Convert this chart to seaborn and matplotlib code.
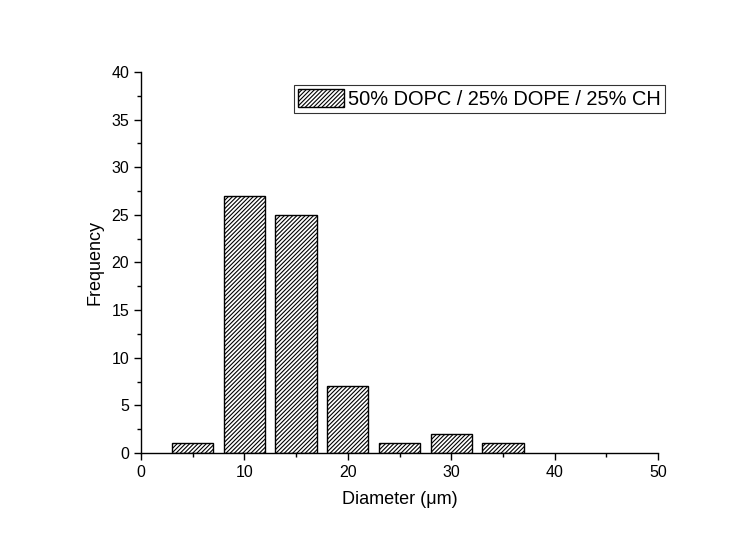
import matplotlib
matplotlib.use("Agg")
import matplotlib.pyplot as plt
import matplotlib.patches as mpatches
from matplotlib.ticker import MultipleLocator
import pandas as pd
import seaborn as sns

diameter_centers = [5, 10, 15, 20, 25, 30, 35]
frequency = [1, 27, 25, 7, 1, 2, 1]
series_label = "50% DOPC / 25% DOPE / 25% CH"

sns.set_theme(style="ticks")
plt.rcParams["font.family"] = ["Liberation Sans", "DejaVu Sans"]
plt.rcParams["hatch.linewidth"] = 0.8
for key in ["text.color", "axes.labelcolor", "xtick.color", "ytick.color"]:
    plt.rcParams[key] = "black"

df = pd.DataFrame({"diameter": diameter_centers, "frequency": frequency})

fig = plt.figure(figsize=(7.49, 5.34), dpi=100)
ax = fig.add_axes([0.1883, 0.1517, 0.6902, 0.7135])

hatch = "////////"
sns.barplot(data=df, x="diameter", y="frequency", native_scale=True, width=0.8,
            color="white", edgecolor="black", linewidth=1.0, hatch=hatch,
            errorbar=None, ax=ax)
for p in ax.patches:
    p.set_facecolor("white")
    p.set_hatch(hatch)

ax.set_xlim(0, 50)
ax.set_ylim(0, 40)
ax.xaxis.set_major_locator(MultipleLocator(10))
ax.xaxis.set_minor_locator(MultipleLocator(5))
ax.yaxis.set_major_locator(MultipleLocator(5))
ax.yaxis.set_minor_locator(MultipleLocator(2.5))
ax.tick_params(which="major", direction="out", length=5, width=1, labelsize=11.5, color="black")
ax.tick_params(which="minor", direction="out", length=3, width=1, color="black")
for side in ["top", "right"]:
    ax.spines[side].set_visible(False)
for side in ["left", "bottom"]:
    ax.spines[side].set_color("black")
    ax.spines[side].set_linewidth(1.0)

ax.set_xlabel("Diameter (\u03bcm)", fontsize=13, labelpad=8)
ax.set_ylabel("Frequency", fontsize=13, labelpad=6)

handle = mpatches.Patch(facecolor="white", edgecolor="black", hatch=hatch, label=series_label)
leg = ax.legend(handles=[handle], loc="upper right", bbox_to_anchor=(0.888, 0.841),
                bbox_transform=fig.transFigure, fontsize=14.4, frameon=True, fancybox=False,
                handlelength=2.3, handleheight=1.0, borderpad=0.2, handletextpad=0.2,
                borderaxespad=0)
leg.get_frame().set_edgecolor("black")
leg.get_frame().set_linewidth(0.8)

fig.savefig("out.png", dpi=100)
